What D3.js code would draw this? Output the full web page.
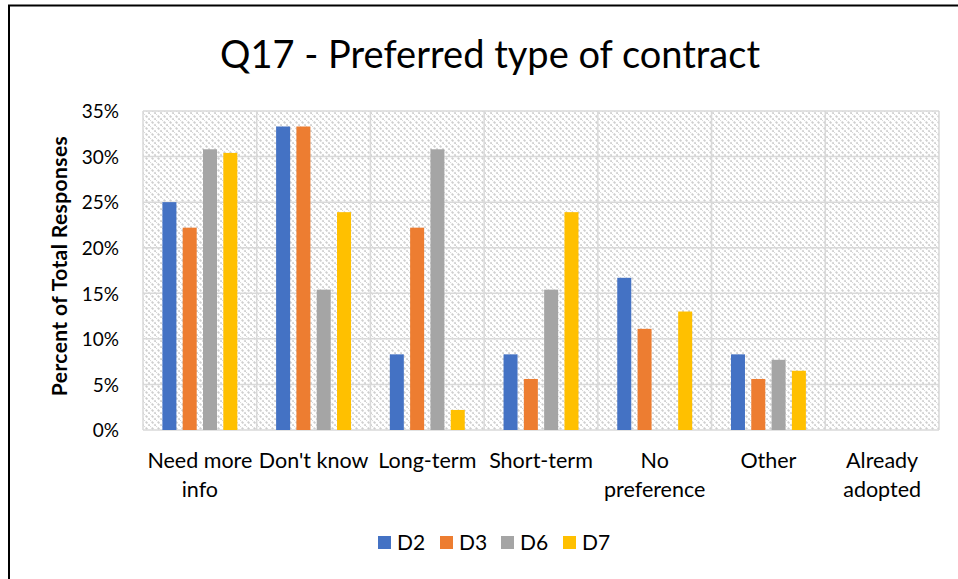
<!DOCTYPE html>
<html>
<head>
<meta charset="utf-8">
<script src="https://cdn.jsdelivr.net/npm/d3@7"></script>
<style>
  body { margin: 0; background: #fff; }
  text { font-family: Lato, "Open Sans", sans-serif; fill: #000; }
</style>
</head>
<body>
<div id="chart"></div>
<script>
// data
var categories = ["Need more\ninfo", "Don't know", "Long-term", "Short-term", "No\npreference", "Other", "Already\nadopted"];
var seriesNames = ["D2", "D3", "D6", "D7"];
var seriesColors = ["#4472c4", "#ed7d31", "#a5a5a5", "#ffc000"];
var d2 = [25.0, 33.3, 8.3, 8.3, 16.7, 8.3, 0];
var d3v = [22.2, 33.3, 22.2, 5.6, 11.1, 5.6, 0];
var d6 = [30.8, 15.4, 30.8, 15.4, 0, 7.7, 0];
var d7 = [30.4, 23.9, 2.2, 23.9, 13.0, 6.5, 0];
var yTicks = [0, 5, 10, 15, 20, 25, 30, 35];

var W = 958, H = 579;
var plot = {left: 143, right: 939, top: 111, bottom: 430};

var svg = d3.select("#chart").append("svg")
    .attr("width", W).attr("height", H);

// hatch fill for the plot area
var defs = svg.append("defs");
var pat = defs.append("pattern").attr("id", "hatch")
    .attr("patternUnits", "userSpaceOnUse")
    .attr("width", 6).attr("height", 6);
pat.append("rect").attr("width", 6).attr("height", 6).attr("fill", "#fff");
pat.append("path").attr("d", "M-1,-1 L7,7")
    .attr("stroke", "#cfcfcf").attr("stroke-width", 1.9)
    .attr("stroke-dasharray", "2.4,1.4");

// outer frame
svg.append("rect").attr("x", 9).attr("y", 5.5)
    .attr("width", W + 10).attr("height", H + 10)
    .attr("fill", "none").attr("stroke", "#000").attr("stroke-width", 2);

var x0 = d3.scaleBand().domain(categories).range([plot.left, plot.right]);
var x1 = d3.scaleBand().domain(seriesNames).range([0, x0.bandwidth()])
    .paddingInner(0.31).paddingOuter(0.955);
var y = d3.scaleLinear().domain([0, 35]).range([plot.bottom, plot.top]);

svg.append("rect")
    .attr("x", plot.left).attr("y", plot.top)
    .attr("width", plot.right - plot.left).attr("height", plot.bottom - plot.top)
    .attr("fill", "url(#hatch)");

// grid lines
var grid = svg.append("g").attr("stroke", "#d9d9d9").attr("stroke-width", 1.5);
grid.selectAll("line.h").data(yTicks).join("line").attr("class", "h")
    .attr("x1", plot.left).attr("x2", plot.right)
    .attr("y1", function(d){ return y(d); }).attr("y2", function(d){ return y(d); });
grid.selectAll("line.v").data(categories.concat(["end"])).join("line").attr("class", "v")
    .attr("x1", function(d, i){ return plot.left + i * x0.bandwidth(); })
    .attr("x2", function(d, i){ return plot.left + i * x0.bandwidth(); })
    .attr("y1", plot.top).attr("y2", plot.bottom);

// bars
var allSeries = [d2, d3v, d6, d7];
var groups = svg.append("g").selectAll("g").data(categories).join("g")
    .attr("transform", function(d){ return "translate(" + x0(d) + ",0)"; });
groups.selectAll("rect").data(function(d, ci){
    return seriesNames.map(function(s, si){ return {s: s, v: allSeries[si][ci], c: seriesColors[si]}; });
  }).join("rect")
    .attr("x", function(d){ return x1(d.s); })
    .attr("width", x1.bandwidth())
    .attr("y", function(d){ return y(d.v); })
    .attr("height", function(d){ return plot.bottom - y(d.v); })
    .attr("fill", function(d){ return d.c; });

// y axis labels
var yAxis = svg.append("g").attr("transform", "translate(" + (plot.left - 21) + ",0)")
    .call(d3.axisLeft(y).tickValues(yTicks).tickSize(0).tickFormat(function(d){ return d + "%"; }));
yAxis.select(".domain").remove();
yAxis.selectAll("text").style("font-size", "19px").style("font-family", "Lato, sans-serif")
    .attr("fill", "#000").attr("dy", "0.36em");

// x axis labels
var xLab = svg.append("g").selectAll("text").data(categories).join("text")
    .attr("x", function(d){ return x0(d) + x0.bandwidth() / 2; })
    .attr("y", 468)
    .attr("text-anchor", "middle")
    .style("font-size", "21.5px");
xLab.selectAll("tspan").data(function(d){ return d.split("\n"); }).join("tspan")
    .attr("x", function(){ return d3.select(this.parentNode).attr("x"); })
    .attr("dy", function(d, i){ return i === 0 ? 0 : 29; })
    .text(function(d){ return d; });

// y axis title
svg.append("text")
    .attr("transform", "translate(67,266) rotate(-90)")
    .attr("text-anchor", "middle")
    .style("font-size", "21px").style("font-weight", "bold")
    .style("letter-spacing", "0.4px")
    .text("Percent of Total Responses");

// title
svg.append("text")
    .attr("x", 490).attr("y", 68)
    .attr("text-anchor", "middle")
    .style("font-size", "38px")
    .text("Q17 - Preferred type of contract");

// legend
var legendX = [378, 440, 501, 563];
var leg = svg.append("g").selectAll("g").data(seriesNames).join("g")
    .attr("transform", function(d, i){ return "translate(" + legendX[i] + ",536)"; });
leg.append("rect").attr("width", 13).attr("height", 13)
    .attr("fill", function(d, i){ return seriesColors[i]; });
leg.append("text").attr("x", 19).attr("y", 14)
    .style("font-size", "21px")
    .text(function(d){ return d; });
</script>
</body>
</html>
